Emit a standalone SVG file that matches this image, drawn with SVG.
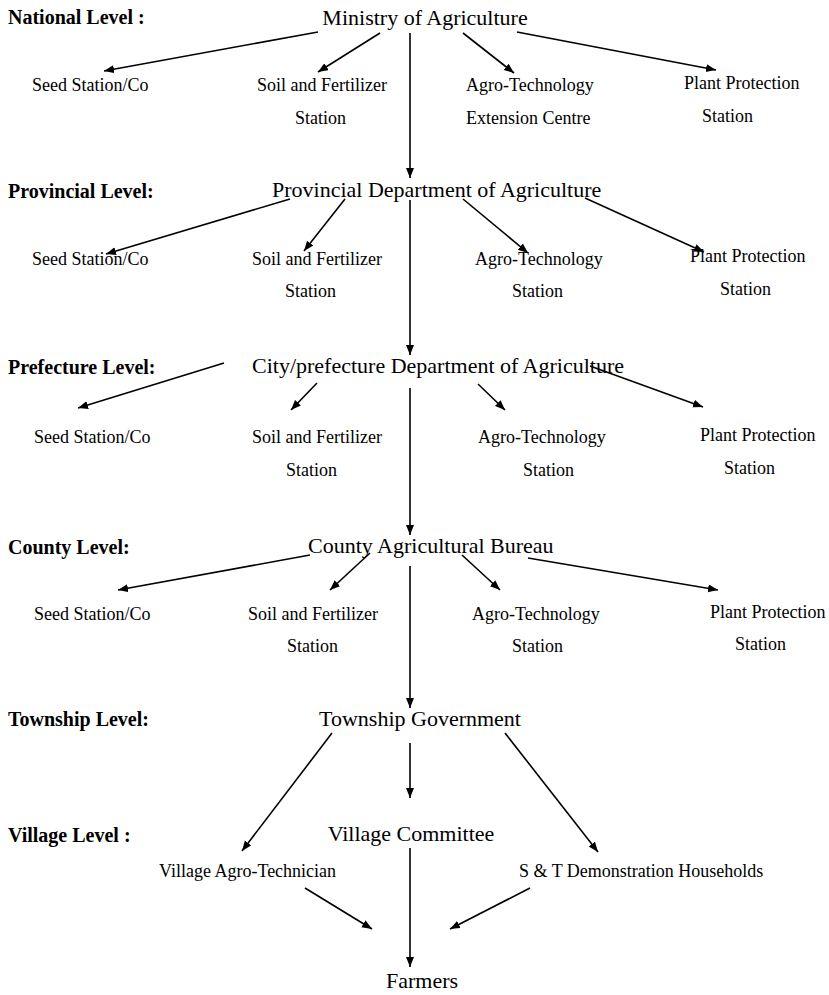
<svg xmlns="http://www.w3.org/2000/svg" width="829" height="995" viewBox="0 0 829 995">
<defs>
<marker id="ah" markerUnits="userSpaceOnUse" markerWidth="11" markerHeight="9" refX="10" refY="4" orient="auto">
<path d="M0,0 L10,4 L0,8 Z" fill="#000"/>
</marker>
<style>
text{font-family:"Liberation Serif","Times New Roman",serif;fill:#000}
.lv{font-size:20px;font-weight:bold}
.mn{font-size:22px;text-anchor:middle}
.lb{font-size:18px}
.c line{stroke:#000;stroke-width:1.6;fill:none}
.a{marker-end:url(#ah)}
</style>
</defs>
<rect width="829" height="995" fill="#fff"/>
<g id="levels">
<text class="lv" x="8" y="24">National Level :</text>
<text class="lv" x="8" y="198">Provincial Level:</text>
<text class="lv" x="8" y="374">Prefecture Level:</text>
<text class="lv" x="8" y="554">County Level:</text>
<text class="lv" x="8" y="726">Township Level:</text>
<text class="lv" x="8" y="842">Village Level :</text>
</g>
<g id="ministry"><text class="mn" x="425" y="25">Ministry of Agriculture</text></g>
<g id="n-seed"><text class="lb" x="32" y="91">Seed Station/Co</text></g>
<g id="n-soil"><text class="lb" x="257" y="91">Soil and Fertilizer</text><text class="lb" x="295" y="124">Station</text></g>
<g id="n-agro"><text class="lb" x="466" y="91">Agro-Technology</text><text class="lb" x="466" y="124">Extension Centre</text></g>
<g id="n-plant"><text class="lb" x="684" y="89">Plant Protection</text><text class="lb" x="702" y="122">Station</text></g>

<g id="provincial"><text class="mn" x="272" y="197" style="text-anchor:start">Provincial Department of Agriculture</text></g>
<g id="p-seed"><text class="lb" x="32" y="265">Seed Station/Co</text></g>
<g id="p-soil"><text class="lb" x="252" y="265">Soil and Fertilizer</text><text class="lb" x="285" y="297">Station</text></g>
<g id="p-agro"><text class="lb" x="475" y="265">Agro-Technology</text><text class="lb" x="512" y="297">Station</text></g>
<g id="p-plant"><text class="lb" x="690" y="262">Plant Protection</text><text class="lb" x="720" y="295">Station</text></g>

<g id="prefecture"><text class="mn" x="252" y="373" style="text-anchor:start">City/prefecture Department of Agriculture</text></g>
<g id="c-seed"><text class="lb" x="34" y="443">Seed Station/Co</text></g>
<g id="c-soil"><text class="lb" x="252" y="443">Soil and Fertilizer</text><text class="lb" x="286" y="476">Station</text></g>
<g id="c-agro"><text class="lb" x="478" y="443">Agro-Technology</text><text class="lb" x="523" y="476">Station</text></g>
<g id="c-plant"><text class="lb" x="700" y="441">Plant Protection</text><text class="lb" x="724" y="474">Station</text></g>

<g id="county"><text class="mn" x="308" y="553" style="text-anchor:start">County Agricultural Bureau</text></g>
<g id="k-seed"><text class="lb" x="34" y="620">Seed Station/Co</text></g>
<g id="k-soil"><text class="lb" x="248" y="620">Soil and Fertilizer</text><text class="lb" x="287" y="652">Station</text></g>
<g id="k-agro"><text class="lb" x="472" y="620">Agro-Technology</text><text class="lb" x="512" y="652">Station</text></g>
<g id="k-plant"><text class="lb" x="710" y="618">Plant Protection</text><text class="lb" x="735" y="650">Station</text></g>

<g id="township"><text class="mn" x="420" y="726">Township Government</text></g>
<g id="village"><text class="mn" x="411" y="841">Village Committee</text></g>
<g id="technician"><text class="lb" x="159" y="877">Village Agro-Technician</text></g>
<g id="households"><text class="lb" x="519" y="877">S &amp; T Demonstration Households</text></g>
<g id="farmers"><text class="mn" x="422" y="988">Farmers</text></g>

<g id="connectors" class="c">
<line class="a" x1="318" y1="32" x2="104" y2="71"/>
<line class="a" x1="380" y1="33" x2="318" y2="72"/>
<line class="a" x1="463" y1="33" x2="514" y2="73"/>
<line class="a" x1="517" y1="32" x2="716" y2="70"/>
<line class="a" x1="410" y1="33" x2="410" y2="178"/>

<line class="a" x1="290" y1="199" x2="106" y2="254"/>
<line class="a" x1="345" y1="199" x2="304" y2="251"/>
<line class="a" x1="463" y1="199" x2="528" y2="253"/>
<line class="a" x1="585" y1="198" x2="704" y2="252"/>
<line class="a" x1="410" y1="200" x2="410" y2="355"/>

<line class="a" x1="224" y1="363" x2="78" y2="408"/>
<line class="a" x1="317" y1="383" x2="291" y2="410"/>
<line class="a" x1="478" y1="384" x2="505" y2="410"/>
<line class="a" x1="590" y1="366" x2="703" y2="407"/>
<line class="a" x1="410" y1="388" x2="410" y2="535"/>

<line class="a" x1="310" y1="555" x2="118" y2="590"/>
<line class="a" x1="370" y1="553" x2="330" y2="590"/>
<line class="a" x1="462" y1="555" x2="500" y2="590"/>
<line class="a" x1="528" y1="558" x2="718" y2="590"/>
<line class="a" x1="410" y1="566" x2="410" y2="708"/>

<line class="a" x1="332" y1="733" x2="242" y2="851"/>
<line class="a" x1="410" y1="743" x2="410" y2="798"/>
<line class="a" x1="505" y1="733" x2="598" y2="852"/>
<line class="a" x1="410" y1="848" x2="410" y2="967"/>
<line class="a" x1="305" y1="888" x2="372" y2="929"/>
<line class="a" x1="530" y1="888" x2="450" y2="929"/>
</g>
</svg>
